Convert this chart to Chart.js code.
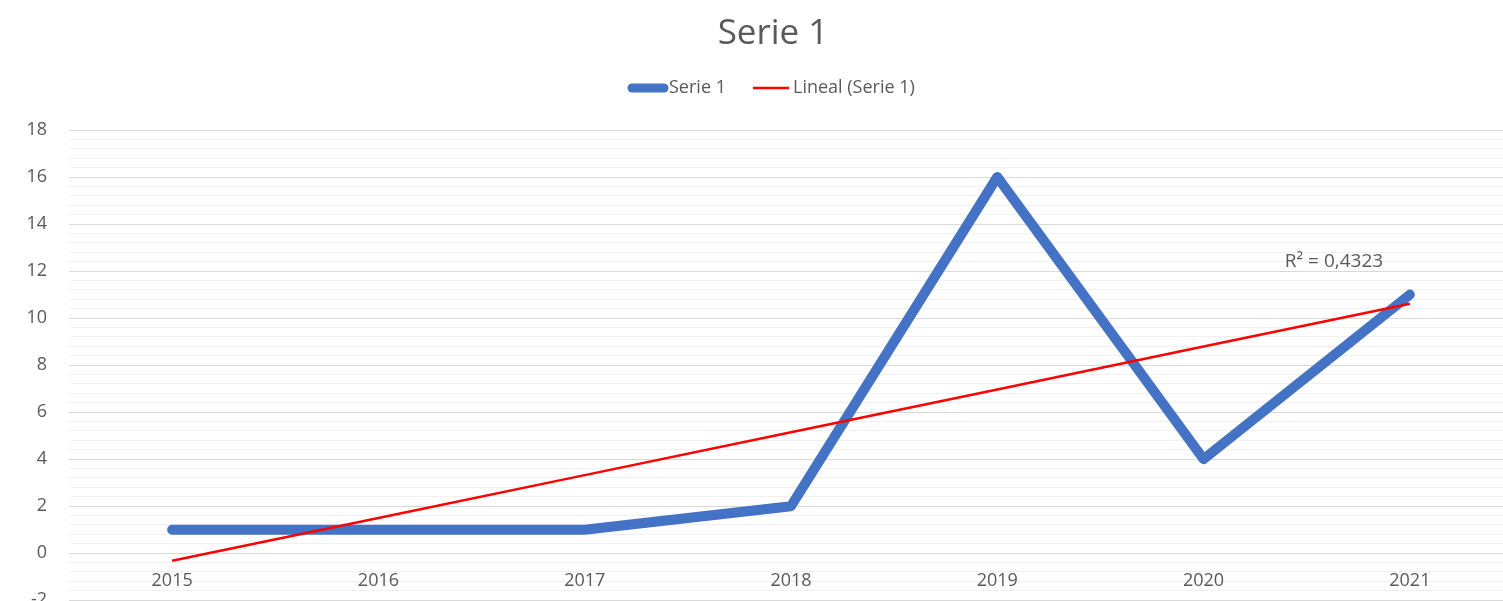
<!DOCTYPE html>
<html>
<head>
<meta charset="utf-8">
<script src="https://cdn.jsdelivr.net/npm/chart.js@4/dist/chart.umd.min.js"></script>
<style>
  html, body { margin: 0; padding: 0; background: #fff; overflow: hidden; }
  #wrap { width: 1546px; height: 633px; }
</style>
</head>
<body>
<div id="wrap"><canvas id="myChart" width="1546" height="633"></canvas></div>
<script>
// data
const years = ["2015", "2016", "2017", "2018", "2019", "2020", "2021"];
const serie1 = [1, 1, 1, 2, 16, 4, 11];
const lineal = [-0.32, 1.50, 3.32, 5.14, 6.96, 8.79, 10.61];
const rSquared = "R² = 0,4323";

const textColor = "#595959";
const fontFamily = "'Open Sans', sans-serif";

// legend + R² label drawn by hand, Excel style
const excelExtras = {
  id: "excelExtras",
  afterDraw(chart) {
    const ctx = chart.ctx;
    const x = chart.scales.x;
    const y = chart.scales.y;
    ctx.save();
    ctx.font = "18px " + fontFamily;
    ctx.fillStyle = textColor;
    ctx.textBaseline = "middle";

    // legend
    const ly = 88;
    ctx.lineCap = "round";
    ctx.strokeStyle = "#4472C4";
    ctx.lineWidth = 9;
    ctx.beginPath();
    ctx.moveTo(632, ly);
    ctx.lineTo(664, ly);
    ctx.stroke();
    ctx.fillText("Serie 1", 669, ly);

    ctx.lineCap = "butt";
    ctx.strokeStyle = "#FF0000";
    ctx.lineWidth = 2.5;
    ctx.beginPath();
    ctx.moveTo(753, ly);
    ctx.lineTo(789, ly);
    ctx.stroke();
    ctx.fillText("Lineal (Serie 1)", 793, ly);

    // R² label next to the trendline end
    ctx.font = "19px " + fontFamily;
    ctx.fillText(rSquared, x.getPixelForValue(6) - 125, y.getPixelForValue(12.4));
    ctx.restore();
  }
};

const ctx = document.getElementById("myChart").getContext("2d");
const myChart = new Chart(ctx, {
  type: "line",
  data: {
    labels: years,
    datasets: [
      {
        label: "Serie 1",
        data: serie1,
        borderColor: "#4472C4",
        backgroundColor: "#4472C4",
        borderWidth: 10,
        borderCapStyle: "round",
        borderJoinStyle: "round",
        pointRadius: 0,
        tension: 0,
        order: 2
      },
      {
        label: "Lineal (Serie 1)",
        data: lineal,
        borderColor: "#FF0000",
        backgroundColor: "#FF0000",
        borderWidth: 2.5,
        pointRadius: 0,
        tension: 0,
        order: 1
      }
    ]
  },
  options: {
    responsive: false,
    animation: false,
    layout: { padding: { left: 0, right: 0, top: 0, bottom: 16 } },
    plugins: {
      legend: { display: false },
      tooltip: { enabled: false },
      title: {
        display: true,
        text: "Serie 1",
        color: textColor,
        font: { family: fontFamily, size: 35, weight: "normal" },
        padding: { top: 13, bottom: 75 }
      }
    },
    scales: {
      x: {
        position: { y: 0 },
        offset: true,
        grid: { display: false, drawTicks: false },
        border: { display: false },
        ticks: {
          color: textColor,
          font: { family: fontFamily, size: 18 },
          padding: 17,
          maxRotation: 0
        },
        afterFit: (scale) => { scale.height = 0; }
      },
      y: {
        min: -2,
        max: 18,
        border: { display: false },
        grid: {
          drawTicks: false,
          color: (c) => {
            const v = c.tick.value;
            return Math.abs(v / 2 - Math.round(v / 2)) < 1e-6 ? "#d9d9d9" : "#f0f0f0";
          },
          lineWidth: 1
        },
        ticks: {
          stepSize: 0.4,
          maxTicksLimit: 60,
          autoSkip: false,
          color: textColor,
          font: { family: fontFamily, size: 18 },
          padding: 22,
          callback: (v) => Math.abs(v / 2 - Math.round(v / 2)) < 1e-6 ? Math.round(v).toString() : ""
        },
        afterFit: (scale) => { scale.width = 69; }
      },
      // empty right margin so the title centres like the original
      yRight: {
        position: "right",
        min: -2,
        max: 18,
        grid: { display: false, drawTicks: false },
        border: { display: false },
        ticks: { display: false },
        afterFit: (scale) => { scale.width = 33; }
      }
    }
  },
  plugins: [excelExtras]
});
</script>
</body>
</html>
